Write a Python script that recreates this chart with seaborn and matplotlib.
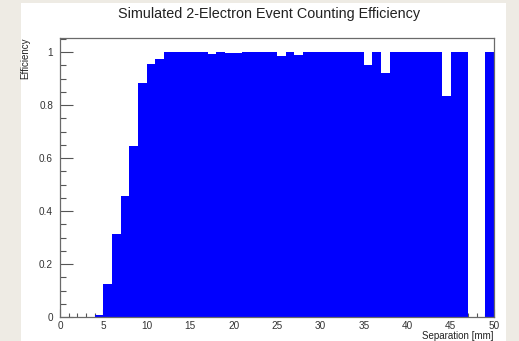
import numpy as np
import pandas as pd
import matplotlib
matplotlib.use('Agg')
import matplotlib.pyplot as plt
from matplotlib.patches import Rectangle
from matplotlib.ticker import MultipleLocator
import seaborn as sns

# efficiency per 1 mm separation bin (0-50 mm)
bin_edges = list(range(0, 51))
efficiency = [0, 0, 0, 0, 0.008, 0.125, 0.313, 0.457, 0.645, 0.884,
              0.953, 0.974, 1.0, 1.0, 1.0, 1.0, 1.0, 0.993, 1.0, 0.995,
              0.995, 1.0, 1.0, 1.0, 1.0, 0.985, 1.0, 0.99, 1.0, 1.0,
              1.0, 1.0, 1.0, 1.0, 1.0, 0.95, 1.0, 0.92, 1.0, 1.0,
              1.0, 1.0, 1.0, 1.0, 0.834, 1.0, 1.0, 0, 0, 1.0]
x_ticks = [0, 5, 10, 15, 20, 25, 30, 35, 40, 45, 50]
y_ticks = [0, 0.2, 0.4, 0.6, 0.8, 1.0]
y_tick_labels = ['0', '0.2', '0.4', '0.6', '0.8', '1']

title = 'Simulated 2-Electron Event Counting Efficiency'

W, H = 519, 341


def plot_efficiency(df, filename):
    sns.set_theme(style='ticks')
    plt.rcParams['font.family'] = ['Liberation Sans', 'DejaVu Sans']

    fig = plt.figure(figsize=(W / 100, H / 100), dpi=100, facecolor='#eeebe4')
    # white canvas on the paper background
    fig.patches.append(Rectangle((21 / W, 0), 485 / W, 338 / H, transform=fig.transFigure,
                                 facecolor='white', edgecolor='none', zorder=-5))

    ax = fig.add_axes([60 / W, (H - 317) / H, 434 / W, 279 / H])
    ax.set_zorder(2)
    ax.set_facecolor('white')

    sns.histplot(data=df, x='separation', weights='efficiency', bins=bin_edges,
                 color='#0000ff', alpha=1, edgecolor='#0000ff', linewidth=0, ax=ax)

    ax.set_xlim(0, 50)
    ax.set_ylim(0, 1.053)
    ax.set_xticks(x_ticks)
    ax.set_xticklabels([str(t) for t in x_ticks])
    ax.set_yticks(y_ticks)
    ax.set_yticklabels(y_tick_labels)
    ax.xaxis.set_minor_locator(MultipleLocator(1))
    ax.yaxis.set_minor_locator(MultipleLocator(0.05))

    for side in ['left', 'right', 'top', 'bottom']:
        ax.spines[side].set_visible(True)
        ax.spines[side].set_color('#6a6a6a')
        ax.spines[side].set_linewidth(0.9)

    ax.tick_params(which='both', direction='in', colors='#555555', labelcolor='#333333',
                   labelsize=7.2, top=False, right=False)
    ax.tick_params(axis='x', which='major', length=6, width=0.8, pad=3)
    ax.tick_params(axis='x', which='minor', length=3, width=0.8)
    ax.tick_params(axis='y', which='major', length=9.2, width=0.8, pad=5)
    ax.tick_params(axis='y', which='minor', length=4.6, width=0.8)

    ax.set_ylabel('Efficiency', loc='top', fontsize=7, color='#222222')
    ax.yaxis.set_label_coords(-30 / 434, 1.0)
    ax.set_xlabel('Separation [mm]', loc='right', fontsize=7, color='#222222')
    ax.xaxis.set_label_coords(1.0, -14 / 279)

    fig.text(269 / W, 1 - 14 / H, title, ha='center', va='center',
             fontsize=10.4, color='#222222')

    fig.savefig(filename, dpi=100, facecolor=fig.get_facecolor())


def main():
    centers = np.array(bin_edges[:-1]) + 0.5
    df = pd.DataFrame({'separation': centers, 'efficiency': efficiency})
    plot_efficiency(df, 'out.png')


if __name__ == '__main__':
    main()
